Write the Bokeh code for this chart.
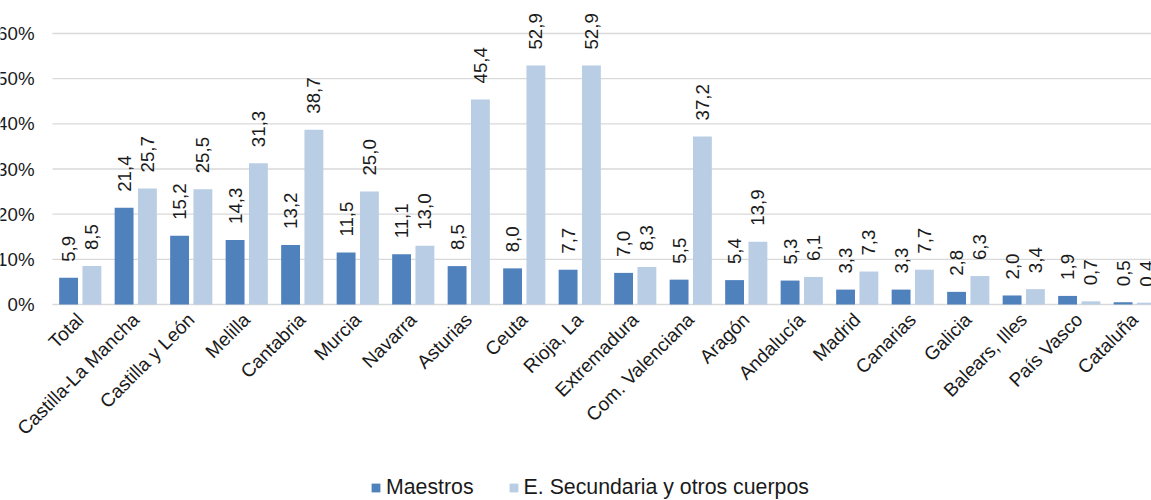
import math
from bokeh.plotting import figure
from bokeh.models import (ColumnDataSource, Range1d, FixedTicker, NumeralTickFormatter,
                          Legend, LegendItem)
from bokeh.transform import dodge
from bokeh.core.properties import value
from bokeh.embed import file_html
from bokeh.resources import INLINE

categories = ["Total", "Castilla-La Mancha", "Castilla y León", "Melilla", "Cantabria",
              "Murcia", "Navarra", "Asturias", "Ceuta", "Rioja, La", "Extremadura",
              "Com. Valenciana", "Aragón", "Andalucía", "Madrid", "Canarias", "Galicia",
              "Balears, Illes", "País Vasco", "Cataluña"]
maestros = [5.9, 21.4, 15.2, 14.3, 13.2, 11.5, 11.1, 8.5, 8.0, 7.7, 7.0, 5.5, 5.4, 5.3,
            3.3, 3.3, 2.8, 2.0, 1.9, 0.5]
secundaria = [8.5, 25.7, 25.5, 31.3, 38.7, 25.0, 13.0, 45.4, 52.9, 52.9, 8.3, 37.2, 13.9,
              6.1, 7.3, 7.7, 6.3, 3.4, 0.7, 0.4]
y_ticks = [0, 0.1, 0.2, 0.3, 0.4, 0.5, 0.6]

FONT = "Liberation Sans"
TXT = "#1a1a1a"
C1 = "#4F81BD"
C2 = "#B9CDE5"
GRID = "#D9D9D9"
FS = "18.7px"

def fmt(v):
    return f"{v:.1f}".replace(".", ",")

src = ColumnDataSource(dict(
    x=list(range(len(categories))),
    m=[v / 100 for v in maestros],
    s=[v / 100 for v in secundaria],
    ml=[fmt(v) for v in maestros],
    sl=[fmt(v) for v in secundaria],
))

n = len(categories)
PX_Y = 271 / 0.6     # pixels per unit on the y scale
PX_X = 55.5          # pixels per category
x_lo = -0.5          # left edge of the category axis
x_hi = n - 0.5
p = figure(frame_width=1151, frame_height=500, output_backend="svg", toolbar_location=None,
           x_range=Range1d(x_lo - 52 / PX_X, x_lo + 1099 / PX_X),
           y_range=Range1d(-(500 - 304) / PX_Y, 0.6 + 33 / PX_Y),
           min_border_left=0, min_border_right=0, min_border_top=0, min_border_bottom=0)
p.outline_line_color = None
p.background_fill_color = "white"
p.border_fill_color = "white"

# horizontal gridlines across the category area only
grid_src = ColumnDataSource(dict(y=y_ticks, x0=[x_lo] * len(y_ticks), x1=[x_hi] * len(y_ticks)))
p.segment(x0="x0", x1="x1", y0="y", y1="y", source=grid_src, line_color=GRID, line_width=1.3)

off = 0.21
w = 0.34
r1 = p.vbar(x=dodge("x", -off, range=p.x_range), top="m", width=w, source=src,
            fill_color=C1, line_color=None)
r2 = p.vbar(x=dodge("x", off, range=p.x_range), top="s", width=w, source=src,
            fill_color=C2, line_color=None)

for col, lab, dx in (("m", "ml", -off), ("s", "sl", off)):
    p.text(x=dodge("x", dx, range=p.x_range), y=col, text=lab, source=src,
           angle=math.pi / 2, text_align="left", text_baseline="middle",
           y_offset=-16, x_offset=0, text_font=value(FONT),
           text_font_size=value(FS), text_color=TXT)

# axes
p.xaxis.fixed_location = 0
p.xaxis.ticker = FixedTicker(ticks=list(range(n)))
p.xaxis.major_label_overrides = {i: c for i, c in enumerate(categories)}
p.xaxis.major_label_orientation = math.pi / 4
p.xaxis.major_label_text_font = FONT
p.xaxis.major_label_text_font_size = "19px"
p.xaxis.major_label_text_color = TXT
p.xaxis.major_tick_line_color = None
p.xaxis.minor_tick_line_color = None
p.xaxis.axis_line_color = None
p.xaxis.major_label_standoff = 6

p.yaxis.fixed_location = x_lo
p.yaxis.ticker = FixedTicker(ticks=y_ticks)
p.yaxis.formatter = NumeralTickFormatter(format="0%")
p.yaxis.major_label_text_font = FONT
p.yaxis.major_label_text_font_size = FS
p.yaxis.major_label_text_color = TXT
p.yaxis.major_tick_line_color = None
p.yaxis.minor_tick_line_color = None
p.yaxis.axis_line_color = None
p.yaxis.major_label_standoff = 12

p.xgrid.grid_line_color = None
p.ygrid.grid_line_color = None

legend = Legend(items=[LegendItem(label="Maestros", renderers=[r1]),
                       LegendItem(label="E. Secundaria y otros cuerpos", renderers=[r2])],
                orientation="horizontal", location=(370, 0),
                glyph_width=11, glyph_height=11, label_standoff=5, spacing=34,
                label_text_font=FONT, label_text_font_size="21.3px",
                label_text_color=TXT, border_line_color=None,
                background_fill_alpha=0, padding=0, margin=0)
p.add_layout(legend, "center")

open("out.html", "w").write(file_html(p, INLINE))
